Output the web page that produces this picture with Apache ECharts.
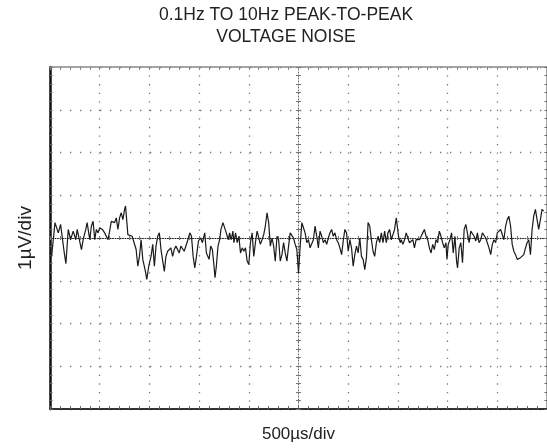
<!DOCTYPE html>
<html>
<head>
<meta charset="utf-8">
<script src="https://cdn.jsdelivr.net/npm/echarts@6/dist/echarts.min.js"></script>
<style>html,body{margin:0;padding:0;background:#fff}#c{width:547px;height:448px}</style>
</head>
<body>
<div id="c"></div>
<script>
// Time in divisions (-5..5, 500µs/div), voltage in divisions (-4..4, 1µV/div)
const titleLines = ['0.1Hz TO 10Hz PEAK-TO-PEAK', 'VOLTAGE NOISE'];
const xName = '500µs/div';
const yName = '1µV/div';

const seg1 = [[-4.967,-0.43],[-4.9,0.36],[-4.833,0.12],[-4.787,0.32],[-4.747,-0.04],[-4.713,-0.35],[-4.68,-0.60],[-4.633,0.20],[-4.587,-0.04],[-4.533,0.16],[-4.48,-0.04],[-4.453,0.20],[-4.413,0.24],[-4.367,-0.27],[-4.333,-0.04],[-4.28,0.20],[-4.253,0.36],[-4.2,-0.04],[-4.167,0.28],[-4.133,0.39],[-4.1,-0.04],[-4.067,0.20],[-4.033,0.12],[-4.0,0.24],[-3.947,0.20],[-3.9,0.12],[-3.833,-0.04],[-3.8,0.16],[-3.767,0.39],[-3.733,0.43],[-3.7,0.36],[-3.667,0.47],[-3.633,0.20],[-3.6,0.47],[-3.567,0.59],[-3.533,0.43],[-3.5,0.67],[-3.48,0.75],[-3.453,0.36],[-3.433,0.08],[-3.4,0.12],[-3.347,0.04],[-3.313,0.08],[-3.267,-0.27],[-3.233,-0.66],[-3.2,-0.43],[-3.167,-0.04],[-3.133,-0.50],[-3.08,-0.78],[-3.053,-0.97],[-3.013,-0.66],[-2.967,-0.43],[-2.933,-0.15],[-2.9,-0.66],[-2.867,-0.19],[-2.833,0.04],[-2.8,0.12],[-2.767,-0.27],[-2.733,-0.23],[-2.7,-0.78],[-2.667,-0.43],[-2.633,-0.31],[-2.6,-0.35],[-2.567,-0.23],[-2.533,-0.43],[-2.5,-0.27],[-2.467,-0.19],[-2.4,-0.35],[-2.367,-0.19],[-2.3,-0.31],[-2.233,-0.07],[-2.187,0.12],[-2.153,0.04],[-2.12,-0.43],[-2.087,-0.70],[-2.053,-0.43],[-2.013,-0.07],[-1.967,0.00],[-1.933,-0.11],[-1.887,0.12],[-1.853,-0.35],[-1.8,-0.50]];

const seg2 = [[-1.767,-0.19],[-1.733,-0.27],[-1.7,-0.66],[-1.68,-0.93],[-1.653,-0.66],[-1.62,-0.19],[-1.587,-0.04],[-1.56,0.20],[-1.52,0.36],[-1.48,0.32],[-1.453,0.12],[-1.413,-0.04],[-1.387,0.12],[-1.353,-0.04],[-1.32,0.16],[-1.3,-0.11],[-1.267,0.12],[-1.233,-0.11],[-1.2,0.04],[-1.167,-0.35],[-1.133,-0.23],[-1.1,-0.31],[-1.067,-0.23],[-1.033,-0.54],[-1.0,-0.62],[-0.967,-0.11],[-0.933,0.12],[-0.9,-0.43],[-0.867,-0.11],[-0.833,0.16],[-0.8,0.20],[-0.767,-0.15],[-0.733,-0.04],[-0.7,0.08],[-0.667,0.28],[-0.633,0.59],[-0.6,0.36],[-0.567,-0.19],[-0.533,0.00],[-0.5,-0.19],[-0.467,-0.54],[-0.433,0.04],[-0.4,-0.04],[-0.367,-0.54],[-0.333,-0.39],[-0.3,-0.11],[-0.267,-0.35],[-0.233,-0.54],[-0.2,-0.19],[-0.167,0.12],[-0.133,0.16],[-0.1,0.00],[-0.067,-0.15],[-0.033,-0.27],[0.0,-0.82],[0.033,-0.19],[0.067,0.36],[0.1,0.24],[0.133,0.12],[0.167,-0.11],[0.2,-0.04],[0.233,-0.23],[0.267,-0.27],[0.3,-0.04],[0.333,0.28],[0.367,0.04],[0.4,-0.23],[0.433,0.16],[0.467,0.04],[0.5,-0.11],[0.533,-0.04],[0.567,-0.15],[0.6,0.00],[0.633,0.12],[0.667,0.20],[0.7,0.04],[0.733,0.12],[0.767,-0.04],[0.8,-0.11],[0.833,-0.23],[0.867,-0.39],[0.9,-0.07],[0.933,0.20],[0.967,0.12],[1.0,-0.31],[1.033,-0.04],[1.067,-0.23],[1.1,-0.66],[1.133,-0.39],[1.167,-0.19],[1.2,-0.35],[1.233,0.00],[1.267,-0.43],[1.3,-0.50],[1.333,-0.74],[1.367,-0.46],[1.4,0.36]];

const seg3 = [[1.433,0.28],[1.467,-0.04],[1.5,-0.31],[1.533,-0.43],[1.567,-0.11],[1.6,0.04],[1.633,-0.11],[1.667,0.12],[1.7,-0.11],[1.733,0.16],[1.767,-0.11],[1.8,0.12],[1.833,0.20],[1.867,-0.04],[1.9,0.08],[1.933,0.20],[1.967,0.47],[1.987,0.43],[2.013,0.04],[2.047,-0.11],[2.067,-0.04],[2.1,-0.15],[2.133,-0.04],[2.167,0.12],[2.2,0.16],[2.233,-0.11],[2.267,-0.15],[2.3,-0.04],[2.333,-0.23],[2.367,-0.04],[2.4,0.00],[2.433,-0.04],[2.467,0.04],[2.5,0.12],[2.533,0.20],[2.567,0.04],[2.6,-0.04],[2.633,-0.23],[2.667,-0.35],[2.7,-0.15],[2.733,-0.27],[2.767,-0.04],[2.8,-0.11],[2.833,0.16],[2.867,0.04],[2.9,-0.11],[2.933,-0.23],[2.967,-0.11],[2.987,-0.50],[3.013,-0.15],[3.047,-0.04],[3.08,0.12],[3.113,-0.35],[3.147,0.04],[3.18,-0.54],[3.2,-0.70],[3.233,-0.23],[3.267,-0.11],[3.3,-0.58],[3.333,0.20],[3.367,0.32],[3.4,0.28],[3.433,-0.11],[3.467,0.16],[3.5,0.20],[3.533,0.04],[3.567,-0.07],[3.6,0.12],[3.633,-0.11],[3.667,-0.04],[3.7,0.12],[3.733,0.16],[3.767,0.00],[3.8,0.04],[3.833,-0.23],[3.867,-0.39],[3.9,-0.15],[3.933,-0.04],[3.967,-0.11],[4.0,0.12],[4.033,0.08],[4.067,0.20],[4.1,0.16],[4.133,-0.04],[4.167,0.28],[4.2,0.43],[4.233,0.51],[4.267,0.28],[4.3,-0.15],[4.333,-0.31],[4.367,-0.39],[4.4,-0.50],[4.433,-0.54],[4.467,-0.46],[4.5,-0.50],[4.533,-0.39],[4.567,-0.23],[4.6,-0.11],[4.633,-0.04],[4.667,-0.39],[4.7,0.20],[4.733,0.51],[4.767,0.67],[4.8,0.43],[4.833,0.20],[4.867,0.43],[4.9,0.67],[4.933,0.63]];

const trace = seg1.concat(seg2, seg3);

const FONT = 'Liberation Sans, Arial, sans-serif';
const chart = echarts.init(document.getElementById('c'), null, {renderer: 'canvas'});

function baseX(extra) {
  return Object.assign({
    type: 'value', min: -5, max: 5, interval: 1,
    axisLabel: {show: false},
    splitLine: {show: false},
    minorTick: {show: true, splitNumber: 5, length: 3, lineStyle: {color: '#666', width: 1}},
    axisTick: {show: true, inside: true, length: 3, lineStyle: {color: '#666', width: 1}}
  }, extra);
}
function baseY(extra) {
  return Object.assign({
    type: 'value', min: -4, max: 4, interval: 1,
    axisLabel: {show: false},
    splitLine: {show: false},
    minorTick: {show: true, splitNumber: 5, length: 2.5, lineStyle: {color: '#666', width: 1}},
    axisTick: {show: true, inside: true, length: 2.5, lineStyle: {color: '#666', width: 1}}
  }, extra);
}

const option = {
  animation: false,
  backgroundColor: '#fff',
  graphic: [
    {type: 'text', x: 286, y: 15, style: {text: titleLines[0], font: '17.5px ' + FONT, fill: '#222', align: 'center', verticalAlign: 'middle', textAlign: 'center', textVerticalAlign: 'middle'}},
    {type: 'text', x: 286, y: 37, style: {text: titleLines[1], font: '17.5px ' + FONT, fill: '#222', align: 'center', verticalAlign: 'middle', textAlign: 'center', textVerticalAlign: 'middle'}}
  ],
  grid: {left: 50, top: 67, width: 500, height: 342, containLabel: false},
  xAxis: [
    baseX({position: 'bottom',
      axisLine: {show: true, onZero: false, lineStyle: {color: '#333', width: 2}},
      splitLine: {show: true, lineStyle: {color: '#777', width: 1.3, type: [1.3, 7.25]}},
      name: xName, nameLocation: 'middle', nameGap: 17,
      nameTextStyle: {fontSize: 17, fontFamily: FONT, color: '#222'}}),
    baseX({position: 'top',
      axisLine: {show: true, onZero: false, lineStyle: {color: '#888', width: 1.5}},
      axisTick: {show: true, inside: true, length: 3, lineStyle: {color: '#888', width: 1}},
      minorTick: {show: true, splitNumber: 5, length: 3, lineStyle: {color: '#888', width: 1}}}),
    baseX({position: 'bottom',
      axisLine: {show: true, onZero: true, onZeroAxisIndex: 0, lineStyle: {color: '#222', width: 1, type: [1, 1.5]}},
      axisTick: {show: true, inside: true, length: 2, lineStyle: {color: '#777', width: 1}},
      minorTick: {show: true, splitNumber: 5, length: 2, lineStyle: {color: '#777', width: 1}}}),
    baseX({position: 'bottom',
      axisLine: {show: false, onZero: true, onZeroAxisIndex: 0},
      axisTick: {show: true, inside: false, length: 2, lineStyle: {color: '#777', width: 1}},
      minorTick: {show: true, splitNumber: 5, length: 2, lineStyle: {color: '#777', width: 1}}})
  ],
  yAxis: [
    baseY({position: 'left',
      axisLine: {show: true, onZero: false, lineStyle: {color: '#111', width: 2.5}},
      splitLine: {show: true, lineStyle: {color: '#777', width: 1.3, type: [1.3, 8.7]}},
      name: yName, nameLocation: 'middle', nameGap: 15, nameRotate: 90,
      nameTextStyle: {fontSize: 19, fontFamily: FONT, color: '#222'}}),
    baseY({position: 'right',
      axisLine: {show: true, onZero: false, lineStyle: {color: '#888', width: 1.5}}}),
    baseY({position: 'left',
      axisLine: {show: true, onZero: true, onZeroAxisIndex: 0, lineStyle: {color: '#666', width: 1, type: [1, 2]}},
      axisTick: {show: true, inside: true, length: 2.5, lineStyle: {color: '#777', width: 1}},
      minorTick: {show: true, splitNumber: 5, length: 2.5, lineStyle: {color: '#777', width: 1}}}),
    baseY({position: 'left',
      axisLine: {show: false, onZero: true, onZeroAxisIndex: 0},
      axisTick: {show: true, inside: false, length: 2.5, lineStyle: {color: '#777', width: 1}},
      minorTick: {show: true, splitNumber: 5, length: 2.5, lineStyle: {color: '#777', width: 1}}})
  ],
  series: [{
    type: 'line',
    xAxisIndex: 0, yAxisIndex: 0,
    data: trace,
    showSymbol: false,
    symbol: 'none',
    lineStyle: {color: '#1a1a1a', width: 1.2},
    z: 5
  }]
};
chart.setOption(option);
</script>
</body>
</html>
